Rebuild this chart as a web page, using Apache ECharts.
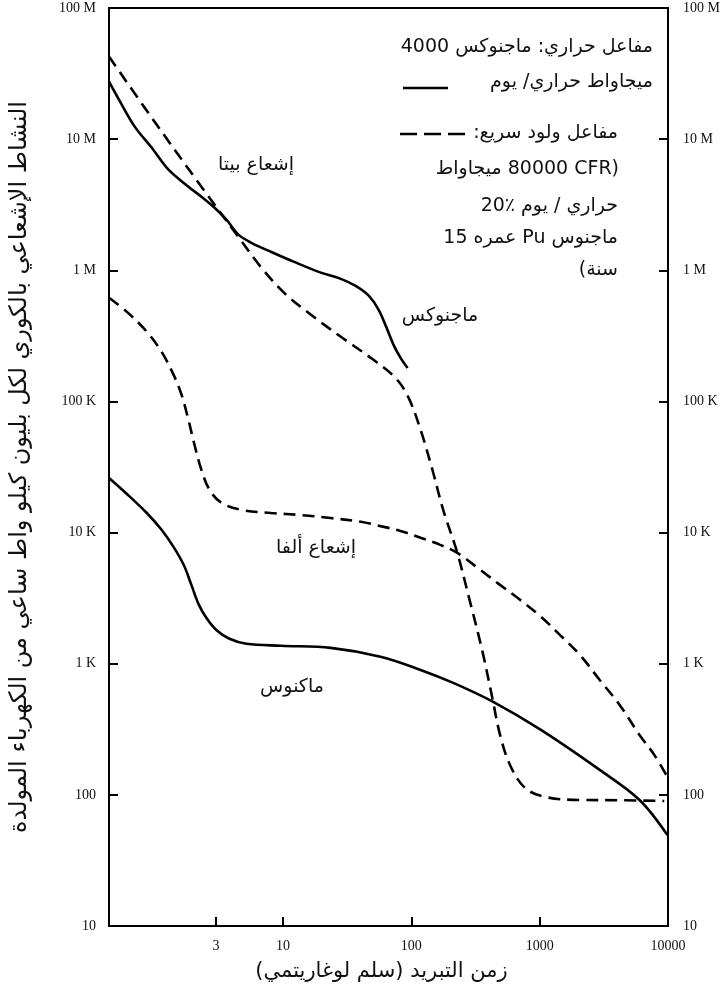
<!DOCTYPE html>
<html><head><meta charset="utf-8">
<script src="https://cdn.jsdelivr.net/npm/echarts@6/dist/echarts.min.js"></script>
<style>html,body{margin:0;padding:0;background:#fff}#c{width:724px;height:989px}</style>
</head><body><div id="c"></div>
<script>
// ---- data ----
const xTickLabels = [3, 10, 100, 1000, 10000];
const xTickMarks = [3, 10, 100, 1000];
const yTickValues = [10, 100, 1000, 10000, 100000, 1000000, 10000000, 100000000];
const yTickText = ['10', '100', '1 K', '10 K', '100 K', '1 M', '10 M', '100 M'];

const magnoxBetaX = [0.44, 0.526, 0.70, 0.948, 1.28, 1.83, 2.31, 2.87, 3.62, 4.49, 5.66, 8.1, 12.2, 19.7, 28.2, 36.8, 46.5, 55.6, 64.1, 72.6, 82.4, 93.4];
const magnoxBetaY = [2.74e7, 2.0e7, 1.24e7, 8.6e6, 5.85e6, 4.34e6, 3.64e6, 3.05e6, 2.43e6, 1.87e6, 1.62e6, 1.38e6, 1.16e6, 9.6e5, 8.6e5, 7.6e5, 6.4e5, 5.0e5, 3.64e5, 2.7e5, 2.15e5, 1.8e5];

const fbrBetaX = [0.44, 0.946, 2.31, 4.48, 6.76, 10.2, 16.5, 28.2, 48.2, 75.3, 95, 118, 146, 177, 228, 288, 356, 426, 491, 587, 768, 1097, 2050, 4190, 9350];
const fbrBetaY = [4.26e7, 1.46e7, 4.34e6, 1.8e6, 1.05e6, 6.73e5, 4.58e5, 3.11e5, 2.15e5, 1.51e5, 1.07e5, 6.07e4, 3.0e4, 1.49e4, 7.0e3, 2.91e3, 1.27e3, 558, 287, 169, 113, 96.5, 91.4, 91, 89.8];

const fbrAlphaX = [0.44, 0.607, 0.867, 1.13, 1.40, 1.62, 1.83, 2.04, 2.31, 2.67, 3.30, 4.72, 8.07, 13.8, 23.5, 40.3, 57.5, 82.2, 118, 168, 228, 344, 491, 703, 1023, 1436, 2053, 2936, 4200, 6000, 7840, 9890];
const fbrAlphaY = [6.17e5, 4.82e5, 3.40e5, 2.39e5, 1.60e5, 1.12e5, 7.24e4, 4.67e4, 3.01e4, 2.12e4, 1.69e4, 1.49e4, 1.41e4, 1.36e4, 1.29e4, 1.21e4, 1.12e4, 1.03e4, 9.12e3, 8.06e3, 7.0e3, 5.2e3, 3.99e3, 3.07e3, 2.28e3, 1.66e3, 1.17e3, 752, 485, 286, 201, 137];

const magnoxAlphaX = [0.44, 0.607, 0.867, 1.13, 1.40, 1.68, 1.93, 2.19, 2.53, 3.02, 3.82, 5.18, 9.64, 23.5, 57.5, 118, 212, 434, 1023, 2936, 6000, 9890];
const magnoxAlphaY = [2.61e4, 1.97e4, 1.41e4, 1.05e4, 7.78e3, 5.68e3, 3.99e3, 2.86e3, 2.23e3, 1.81e3, 1.55e3, 1.42e3, 1.37e3, 1.32e3, 1.13e3, 897, 714, 512, 313, 155, 91.4, 49.4];

const yTitle = 'النشاط الإشعاعي بالكوري لكل بليون كيلو واط ساعي من الكهرباء المولدة';
const xTitle = 'زمن التبريد (سلم لوغاريتمي)';
const legendLines = [
  'مفاعل حراري: ماجنوكس 4000',
  'ميجاواط حراري/ يوم',
  'مفاعل ولود سريع:',
  '(CFR\u200F 80000 ميجاواط',
  'حراري / يوم ٪20',
  'ماجنوس Pu عمره 15',
  'سنة)'
];
const curveLabels = ['إشعاع بيتا', 'ماجنوكس', 'إشعاع ألفا', 'ماكنوس'];

// ---- helpers ----
const rtl = s => '\u202B' + s + '\u202C';
const zip = (xs, ys) => xs.map((x, i) => [x, ys[i]]);
const AR = 'DejaVu Sans';
const SERIF = 'Liberation Serif';
const yFmt = v => { const i = yTickValues.findIndex(t => Math.abs(t - v) / t < 1e-6); return i >= 0 ? yTickText[i] : ''; };
const xFmt = v => { const i = xTickLabels.findIndex(t => Math.abs(t - v) / t < 1e-6); return i >= 0 ? String(xTickLabels[i]) : ''; };

const chart = echarts.init(document.getElementById('c'), null, {renderer: 'canvas'});
const lineBase = {type: 'line', showSymbol: false, symbol: 'none', smooth: 0.35, silent: true};
const axisLine = {show: true, lineStyle: {color: '#000', width: 2}};
const tickStyle = {color: '#000', width: 2};

const legendX = [653, 653, 618, 619, 618, 618, 618];
const legendY = [47, 82, 133, 169, 206, 238, 270];
const graphics = legendLines.map((t, i) => ({
  type: 'text', x: legendX[i], y: legendY[i],
  style: {text: rtl(t), fontFamily: AR, fontSize: 19, fill: '#111', textAlign: 'right', textVerticalAlign: 'middle'}
}));
graphics.push({type: 'line', shape: {x1: 403, y1: 88, x2: 448, y2: 88}, style: {stroke: '#000', lineWidth: 2.5}});
graphics.push({type: 'line', shape: {x1: 400, y1: 134, x2: 465, y2: 134}, style: {stroke: '#000', lineWidth: 2.5, lineDash: [17, 7]}});
const labelPos = [[256, 165], [440, 316], [316, 548], [292, 687]];
curveLabels.forEach((t, i) => graphics.push({
  type: 'text', x: labelPos[i][0], y: labelPos[i][1],
  style: {text: rtl(t), fontFamily: AR, fontSize: 19, fill: '#111', textAlign: 'center', textVerticalAlign: 'middle'}
}));

chart.setOption({
  animation: false,
  backgroundColor: '#fff',
  grid: {left: 107, right: 56, top: 8, bottom: 63, show: true, borderColor: '#000', borderWidth: 2},
  xAxis: [{
    type: 'log', logBase: 10, min: 0.44, max: 10000, position: 'bottom',
    axisLine: axisLine,
    axisTick: {show: true, inside: true, length: 9, lineStyle: tickStyle, customValues: xTickMarks},
    axisLabel: {show: true, customValues: xTickLabels, formatter: xFmt, fontFamily: SERIF, fontSize: 14, color: '#111', margin: 13},
    splitLine: {show: false},
    name: rtl(xTitle), nameLocation: 'middle', nameGap: 35,
    nameTextStyle: {fontFamily: AR, fontSize: 21, color: '#111', padding: [0, 14, 0, 0]}
  }],
  yAxis: [{
    type: 'log', logBase: 10, min: 10, max: 1e8, interval: 1, position: 'left',
    axisLine: axisLine,
    axisTick: {show: true, inside: true, length: 9, lineStyle: tickStyle},
    axisLabel: {formatter: yFmt, fontFamily: SERIF, fontSize: 14, color: '#111', margin: 13},
    splitLine: {show: false},
    name: rtl(yTitle), nameLocation: 'middle', nameGap: 77, nameRotate: 90,
    nameTextStyle: {fontFamily: AR, fontSize: 24, color: '#111'}
  }, {
    type: 'log', logBase: 10, min: 10, max: 1e8, interval: 1, position: 'right',
    axisLine: axisLine,
    axisTick: {show: true, inside: true, length: 9, lineStyle: tickStyle},
    axisLabel: {formatter: yFmt, fontFamily: SERIF, fontSize: 14, color: '#111', margin: 15},
    splitLine: {show: false}
  }],
  series: [
    Object.assign({}, lineBase, {name: 'magnoxBeta', data: zip(magnoxBetaX, magnoxBetaY), lineStyle: {color: '#000', width: 2.6, type: 'solid'}}),
    Object.assign({}, lineBase, {name: 'fbrBeta', data: zip(fbrBetaX, fbrBetaY), lineStyle: {color: '#000', width: 2.6, type: [12, 7]}}),
    Object.assign({}, lineBase, {name: 'fbrAlpha', data: zip(fbrAlphaX, fbrAlphaY), lineStyle: {color: '#000', width: 2.6, type: [12, 7]}}),
    Object.assign({}, lineBase, {name: 'magnoxAlpha', data: zip(magnoxAlphaX, magnoxAlphaY), lineStyle: {color: '#000', width: 2.6, type: 'solid'}})
  ],
  graphic: graphics
});
</script></body></html>
